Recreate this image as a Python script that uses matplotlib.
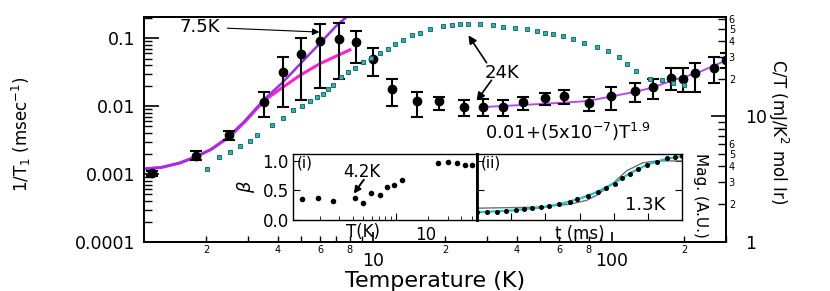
import numpy as np
import matplotlib
matplotlib.use('Agg')
import matplotlib.pyplot as plt
from matplotlib.ticker import FixedLocator, NullFormatter, FuncFormatter

# ---- main panel: 1/T1 vs temperature ----
temp = [1.19, 1.82, 2.50, 3.50, 4.2, 5.0, 6.0, 7.2, 8.5, 10.0, 12.0, 15.3, 18.9, 24.0,
        28.9, 35.0, 42.5, 52.5, 63.0, 80.0, 99.0, 125.0, 148.0, 177.0, 198.0, 222.0, 267.0, 300.0]
rate = [0.00103, 0.00184, 0.00375, 0.0115, 0.0316, 0.058, 0.090, 0.097, 0.087, 0.049, 0.0178,
        0.0119, 0.0119, 0.0097, 0.0097, 0.0097, 0.0115, 0.0131, 0.014, 0.011, 0.014, 0.0166,
        0.019, 0.0258, 0.025, 0.0306, 0.036, 0.047]
rate_lo = [0.00095, 0.00161, 0.00316, 0.00689, 0.00966, 0.01225, 0.0184, 0.025, 0.0429, 0.0276,
           0.010, 0.00689, 0.00873, 0.00713, 0.00713, 0.00713, 0.00873, 0.01035, 0.0107, 0.00844,
           0.00873, 0.01146, 0.0127, 0.0172, 0.0161, 0.0161, 0.0218, 0.0362]
rate_hi = [0.00111, 0.00218, 0.00428, 0.0161, 0.0526, 0.100, 0.161, 0.166, 0.127, 0.0713,
           0.025, 0.0161, 0.01355, 0.01225, 0.0127, 0.01225, 0.01355, 0.0155, 0.0172, 0.01355,
           0.019, 0.0218, 0.025, 0.0362, 0.0362, 0.0429, 0.0526, 0.0601]

# fit curves
pink_t = [1.1, 1.3, 1.55, 1.82, 2.1, 2.5, 2.9, 3.5, 4.2, 5.0, 6.0, 7.0, 8.0]
pink_r = [0.00119, 0.00125, 0.00145, 0.0018, 0.0023, 0.0035, 0.0058, 0.012, 0.019, 0.029, 0.042, 0.054, 0.067]
purp_t = [1.1, 1.3, 1.55, 1.82, 2.1, 2.5, 2.9, 3.5, 4.2, 5.0, 6.0, 7.0, 7.75]
purp_r = [0.00119, 0.00125, 0.00145, 0.0018, 0.0023, 0.0036, 0.006, 0.0125, 0.0225, 0.043, 0.084, 0.15, 0.204]
hiT_t = [29.4, 50, 78.6, 124, 148, 180, 227, 296]
hiT_r = [0.0097, 0.0107, 0.0118, 0.0161, 0.0187, 0.024, 0.0306, 0.0459]

# specific heat C/T (right axis)
ct_t = [2.02, 2.27, 2.52, 2.78, 3.06, 3.27, 3.78, 4.20, 4.62, 5.05, 5.45, 5.83, 6.18, 6.49, 6.81,
        7.35, 7.85, 8.41, 9.08, 9.81, 10.7, 11.5, 12.4, 13.4, 14.6, 15.7, 17.3, 19.6, 21.4, 23.1,
        25.0, 28.0, 31.8, 35.0, 39.3, 44.1, 48.5, 52.5, 56.7, 62.4, 68.7, 76.4, 86.5, 96.2, 107,
        116, 126, 144, 162, 180, 200]
ct_val = [3.79, 4.73, 5.18, 5.78, 6.34, 7.06, 8.48, 9.8, 11.2, 12.2, 13.4, 14.2, 15.2, 16.7, 17.9,
          20.8, 22.8, 24.5, 27.4, 29.4, 32.2, 34.7, 38.0, 40.8, 44.8, 46.5, 49.9, 52.7, 53.7, 54.7,
          54.7, 54.7, 53.7, 51.8, 50.8, 49.9, 48.2, 46.5, 45.6, 44.0, 41.6, 38.6, 36.0, 33.4, 29.9,
          26.4, 23.2, 20.0, 19.7, 18.6, 17.9]

# ---- inset (i): stretching exponent beta ----
beta_t = [1.37, 1.92, 2.64, 4.21, 4.98, 5.9, 7.13, 8.26, 9.6, 11.4, 24.3, 30.0, 36.3, 43.0, 50.8]
beta = [0.36, 0.38, 0.32, 0.37, 0.29, 0.455, 0.42, 0.555, 0.60, 0.68, 0.97, 0.98, 0.97, 0.93, 0.93]

# ---- inset (ii): recovery at 1.3K ----
rec_t = [0.0, 0.29, 0.59, 0.85, 1.15, 1.38, 1.62, 1.88, 2.12, 2.41, 2.71, 2.94, 3.24, 3.53, 3.79,
         4.03, 4.24, 4.47, 4.71, 4.97, 5.26, 5.56, 5.79, 6.0]
rec_m = [0.133, 0.133, 0.133, 0.15, 0.167, 0.183, 0.2, 0.217, 0.233, 0.267, 0.30, 0.35, 0.40, 0.467,
         0.55, 0.617, 0.717, 0.783, 0.867, 0.933, 0.983, 1.05, 1.067, 1.083]
cyan_t = [0.0, 1.0, 2.0, 2.5, 3.0, 3.5, 4.0, 4.5, 5.0, 5.5, 6.0]
cyan_m = [0.13, 0.16, 0.22, 0.28, 0.36, 0.47, 0.62, 0.80, 0.94, 1.03, 1.08]
gray_t = [0.0, 1.74, 2.71, 3.2, 3.5, 3.97, 4.38, 4.85, 5.26, 6.0]
gray_m = [0.2, 0.217, 0.267, 0.33, 0.417, 0.617, 0.833, 0.967, 1.0, 1.0]

W, H = 830, 291
fig = plt.figure(figsize=(8.3, 2.91), dpi=100)
ax = fig.add_axes([144 / W, 1 - 242 / H, 582 / W, 225 / H])
ax.set_xscale('log')
ax.set_yscale('log')
ax.set_xlim(1.1, 300)
ax.set_ylim(1e-4, 0.204)

ax.plot(pink_t, pink_r, color='#ff1fd0', lw=2.2, zorder=3)
ax.plot(purp_t, purp_r, color='#9b30e8', lw=1.8, zorder=3)
ax.plot(hiT_t, hiT_r, color='#b84af0', lw=1.4, zorder=3)
yerr = [np.array(rate) - np.array(rate_lo), np.array(rate_hi) - np.array(rate)]
ax.errorbar(temp, rate, yerr=yerr, fmt='o', color='black', ms=6, lw=1.5,
            capsize=4, capthick=1.5, zorder=5)

# axis ticks
ax.tick_params(which='both', direction='in', top=False, right=False)
ax.tick_params(axis='y', which='major', length=11, width=1.2, labelsize=12.5, pad=6)
ax.tick_params(axis='y', which='minor', length=6, width=1.0)
ax.yaxis.set_major_locator(FixedLocator([1e-4, 1e-3, 1e-2, 1e-1]))
ax.yaxis.set_major_formatter(FuncFormatter(lambda v, p: {1e-4: '0.0001', 1e-3: '0.001',
                                                       1e-2: '0.01', 1e-1: '0.1'}.get(v, '')))
ax.xaxis.set_major_locator(FixedLocator([10, 100]))
ax.xaxis.set_major_formatter(FuncFormatter(lambda v, p: '%d' % v))
minors = [m * 10 ** d for d in range(0, 3) for m in range(2, 10)]
ax.xaxis.set_minor_locator(FixedLocator(minors))


def lead_digit(v):
    return int(round(v / 10 ** np.floor(np.log10(v) + 1e-9)))


ax.xaxis.set_minor_formatter(FuncFormatter(
    lambda v, p: str(lead_digit(v)) if lead_digit(v) in (2, 4, 6, 8) else ''))
ax.tick_params(axis='x', which='major', length=7, width=1.2, labelsize=12.5, pad=7)
ax.tick_params(axis='x', which='minor', length=4, width=1.0, labelsize=7, pad=2)
for s in ax.spines.values():
    s.set_linewidth(1.3)

ax.set_xlabel('Temperature (K)', fontsize=16)
ax.xaxis.set_label_coords(0.5, -0.13)
ax.set_ylabel(r'1/T$_1$ (msec$^{-1}$)', fontsize=12)
ax.yaxis.set_label_coords(-0.19, 0.48)

# right axis with C/T
ax2 = ax.twinx()
ax2.set_yscale('log')
ax2.set_ylim(1, 62)
ax2.plot(ct_t, ct_val, ls='none', marker='s', ms=3.2, mfc='#22b8b8', mec='#145a5a', mew=0.6, zorder=2)
ax2.yaxis.set_major_locator(FixedLocator([1, 10]))
ax2.yaxis.set_major_formatter(FuncFormatter(lambda v, p: '%d' % v))
ax2.yaxis.set_minor_locator(FixedLocator([m * 10 ** d for d in range(2) for m in range(2, 10)]))
ax2.yaxis.set_minor_formatter(FuncFormatter(
    lambda v, p: str(lead_digit(v)) if lead_digit(v) <= 6 else ''))
ax2.tick_params(which='both', direction='in')
ax2.tick_params(axis='y', which='major', length=11, width=1.2, labelsize=12.5, pad=14)
ax2.tick_params(axis='y', which='minor', length=6, width=1.0, labelsize=7, pad=2)
ax2.set_ylabel('C/T (mJ/K$^2$ mol Ir)', fontsize=12, rotation=270)
ax2.yaxis.set_label_coords(1.11, 0.49)
for s in ax2.spines.values():
    s.set_linewidth(1.3)

# annotations on the main panel
ax.annotate('7.5K', xy=(6.12, 0.122), xytext=(1.89, 0.145), fontsize=13, ha='center', va='center',
            arrowprops=dict(arrowstyle='-|>', color='black', lw=0.8, mutation_scale=10, shrinkA=3))
ax.annotate('', xy=(24.7, 0.1186), xytext=(30.3, 0.0401),
            arrowprops=dict(arrowstyle='-|>', color='black', lw=1.2, mutation_scale=12))
ax.annotate('', xy=(26.7, 0.01107), xytext=(31.8, 0.0258),
            arrowprops=dict(arrowstyle='-|>', color='black', lw=1.2, mutation_scale=12))
ax.text(34.7, 0.0306, '24K', fontsize=13, ha='center', va='center')
ax.text(29.5, 0.0042, r'0.01+(5x10$^{-7}$)T$^{1.9}$', fontsize=13, ha='left', va='center')

# inset (i)
a1 = fig.add_axes([293 / W, 1 - 220 / H, 184 / W, 66 / H])
a1.set_xscale('log')
a1.set_xlim(1.13, 56)
a1.set_ylim(0, 1.117)
a1.plot(beta_t, beta, 'o', color='black', ms=3)
a1.yaxis.set_major_locator(FixedLocator([0.0, 0.5, 1.0]))
a1.yaxis.set_major_formatter(FuncFormatter(lambda v, p: '%.1f' % v))
a1.xaxis.set_major_locator(FixedLocator([10]))
a1.xaxis.set_major_formatter(NullFormatter())
a1.xaxis.set_minor_formatter(NullFormatter())
a1.tick_params(which='both', direction='in', top=False, right=False)
a1.tick_params(axis='y', length=5, labelsize=12, pad=3)
a1.tick_params(axis='x', which='major', length=5)
a1.tick_params(axis='x', which='minor', length=3)
a1.set_ylabel(r'$\beta$', fontsize=13, labelpad=4)
a1.text(0.72, -0.09, '10', transform=a1.transAxes, fontsize=12, ha='center', va='top')
a1.text(0.38, -0.05, 'T(K)', transform=a1.transAxes, fontsize=12, ha='center', va='top')
a1.text(0.02, 0.87, '(i)', transform=a1.transAxes, fontsize=11, ha='left', va='center')
a1.text(0.375, 0.73, '4.2K', transform=a1.transAxes, fontsize=12, ha='center', va='center')
a1.annotate('', xy=(0.33, 0.40), xytext=(0.385, 0.61), xycoords='axes fraction',
            textcoords='axes fraction',
            arrowprops=dict(arrowstyle='-|>', color='black', lw=1.4, mutation_scale=10,
                            shrinkA=0, shrinkB=0))
for s in a1.spines.values():
    s.set_linewidth(1.0)
a1.spines['right'].set_linewidth(2.0)

# inset (ii)
a2 = fig.add_axes([477 / W, 1 - 220 / H, 205 / W, 66 / H])
a2.set_xlim(0, 6)
a2.set_ylim(0, 1.117)
a2.plot(gray_t, gray_m, color='#707070', lw=1.0)
a2.plot(cyan_t, cyan_m, color='#12c8c8', lw=1.6)
a2.plot(rec_t, rec_m, 'o', color='black', ms=2.6)
a2.xaxis.set_major_locator(FixedLocator([1, 2, 3, 4, 5]))
a2.yaxis.set_major_locator(FixedLocator([0.5, 1.0]))
a2.xaxis.set_major_formatter(NullFormatter())
a2.yaxis.set_major_formatter(NullFormatter())
a2.tick_params(which='both', direction='in', top=False, right=True, length=5)
a2.set_xlabel('t (ms)', fontsize=12, labelpad=0)
a2.text(0.02, 0.87, '(ii)', transform=a2.transAxes, fontsize=11, ha='left', va='center')
a2.text(0.82, 0.23, '1.3K', transform=a2.transAxes, fontsize=13, ha='center', va='center')
for s in a2.spines.values():
    s.set_linewidth(1.0)
a2.spines['left'].set_linewidth(2.0)
fig.text(700 / W, 1 - 195 / H, 'Mag. (A.U.)', rotation=270, fontsize=11, ha='center', va='center')

fig.savefig('out.png', dpi=100)
